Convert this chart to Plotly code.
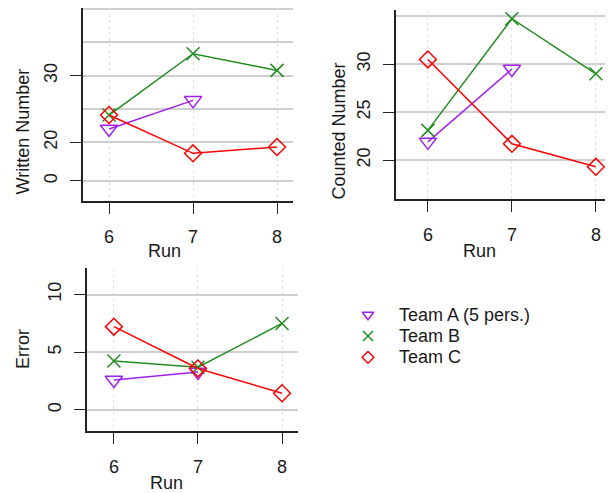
import plotly.graph_objects as go

runs = [6, 7, 8]
teams = ["Team A (5 pers.)", "Team B", "Team C"]
colors = ["#A020F0", "#228B22", "#FF0000"]
symbols = ["triangle-down-open", "x-thin", "diamond-open"]
msizes = [15, 13, 13]
legend_sizes = [10, 10, 9]

written = {
    "Team A (5 pers.)": [22.0, 26.3, None],
    "Team B": [24.1, 33.3, 30.8],
    "Team C": [24.1, 18.35, 19.3],
}
counted = {
    "Team A (5 pers.)": [21.9, 29.5, None],
    "Team B": [23.1, 34.75, 29.0],
    "Team C": [30.5, 21.7, 19.3],
}
error = {
    "Team A (5 pers.)": [2.6, 3.3, None],
    "Team B": [4.25, 3.7, 7.5],
    "Team C": [7.22, 3.6, 1.45],
}

written_ticks = [14.2, 20, 30]
written_labels = ["0", "20", "30"]
written_grid = [25, 35, 40]
counted_ticks = [20, 25, 30]
counted_grid = [35]
error_ticks = [0, 5, 10]

# page body has an 8px margin: figure is laid out in page pixels minus 8
OFF = 8
W, H = 613 - OFF, 493 - OFF
FONT = "Liberation Sans, Arial, sans-serif"
FS = 18
TXT = "#1a1a1a"


def fx(p):
    return (p - OFF) / W


def fy(p):
    return 1 - (p - OFF) / H


fig = go.Figure()

panels = [("x", "y", written), ("x2", "y2", counted), ("x3", "y3", error)]
for xa, ya, data in panels:
    for t, c, s, ms in zip(teams, colors, symbols, msizes):
        fig.add_trace(go.Scatter(
            x=runs, y=data[t], xaxis=xa, yaxis=ya, mode="lines+markers",
            line=dict(color=c, width=1.5),
            marker=dict(symbol=s, size=ms, color=c, line=dict(color=c, width=1.5)),
            showlegend=False, connectgaps=False, hoverinfo="x+y",
        ))

# custom legend: one marker per row on a small hidden axis pair
rows = list(range(len(teams)))
for i, (t, c, s, ls) in enumerate(zip(teams, colors, symbols, legend_sizes)):
    fig.add_trace(go.Scatter(
        x=[0], y=[rows[i]], xaxis="x4", yaxis="y4", mode="markers",
        marker=dict(symbol=s, size=ls, color=c, line=dict(color=c, width=1.5)),
        showlegend=False, hoverinfo="skip",
    ))
    fig.add_annotation(text=t, x=fx(397), xref="paper", y=rows[i], yref="y4",
                       xanchor="left", yanchor="middle", showarrow=False,
                       font=dict(family=FONT, size=FS, color=TXT))

grid_col = "#cfcfcf"
common_x = dict(
    tickvals=runs, ticktext=[str(r) for r in runs], ticks="outside", ticklen=11,
    tickwidth=1, tickcolor="#222", showline=True, linecolor="#222", linewidth=1.5,
    showgrid=True, gridcolor="#e2e2e2", griddash="dot", gridwidth=1,
    zeroline=False, tickfont=dict(family=FONT, size=FS, color=TXT),
    ticklabelstandoff=8,
)
common_y = dict(
    ticks="outside", ticklen=11, tickwidth=1, tickcolor="#222",
    showline=True, linecolor="#222", linewidth=1.5,
    showgrid=True, gridcolor=grid_col, gridwidth=1.5, zeroline=False,
    tickangle=-90, tickfont=dict(family=FONT, size=FS, color=TXT),
    ticklabelstandoff=6,
)

fig.update_layout(
    width=W, height=H, margin=dict(l=0, r=0, t=0, b=0),
    paper_bgcolor="white", plot_bgcolor="rgba(0,0,0,0)",
    font=dict(family=FONT, size=FS, color=TXT),
    showlegend=False,
    xaxis=dict(common_x, domain=[fx(83), fx(293)], range=[5.69, 8.19], anchor="y"),
    yaxis=dict(common_y, domain=[fy(201), fy(8)], range=[11.19, 40.17], anchor="x",
               tickvals=written_ticks, ticktext=written_labels,
               minor=dict(tickvals=written_grid, showgrid=True, gridcolor=grid_col,
                          gridwidth=1.5, ticks="")),
    xaxis2=dict(common_x, domain=[fx(396), fx(611)], range=[5.62, 8.18], anchor="y2"),
    yaxis2=dict(common_y, domain=[fy(199), fy(10)], range=[15.94, 35.66], anchor="x2",
                tickvals=counted_ticks, ticktext=[str(v) for v in counted_ticks],
                minor=dict(tickvals=counted_grid, showgrid=True, gridcolor=grid_col,
                           gridwidth=1.5, ticks="")),
    xaxis3=dict(common_x, domain=[fx(87), fx(298)], range=[5.68, 8.19], anchor="y3"),
    yaxis3=dict(common_y, domain=[fy(431), fy(268)], range=[-1.82, 12.3], anchor="x3",
                tickvals=error_ticks, ticktext=[str(v) for v in error_ticks]),
    xaxis4=dict(domain=[fx(358), fx(378)], range=[-1, 1], visible=False,
                anchor="y4", fixedrange=True),
    yaxis4=dict(domain=[fy(368), fy(304)], range=[2.5, -0.5], visible=False,
                anchor="x4", fixedrange=True),
)

titles = [
    ("Written Number", 23, 131.5, -90),
    ("Counted Number", 338.5, 131, -90),
    ("Error", 23, 349, -90),
    ("Run", 164, 251, 0),
    ("Run", 479.5, 251, 0),
    ("Run", 166.5, 483, 0),
]
for text, px, py, ang in titles:
    fig.add_annotation(text=text, x=fx(px), y=fy(py), xref="paper", yref="paper",
                       showarrow=False, textangle=ang, xanchor="center", yanchor="middle",
                       font=dict(family=FONT, size=FS, color=TXT))

fig.write_html("out.html")
